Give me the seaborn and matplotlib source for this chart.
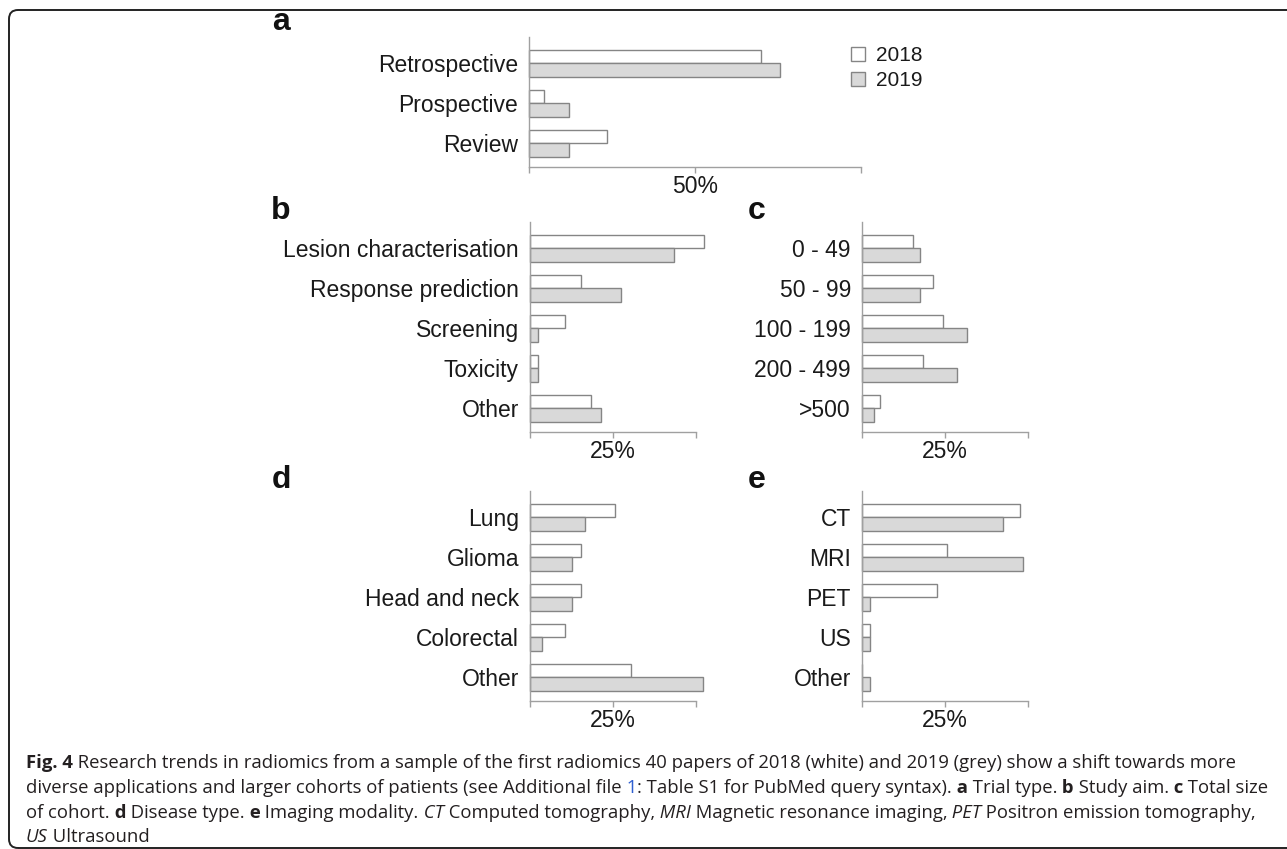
import numpy as np
import pandas as pd
import matplotlib
matplotlib.use("Agg")
import matplotlib.pyplot as plt
import seaborn as sns
from matplotlib.patches import FancyBboxPatch
from matplotlib.transforms import IdentityTransform

# ---------------- data (percent of 40 papers) ----------------
years = ["2018", "2019"]

trial_types = ["Retrospective", "Prospective", "Review"]
trial_2018 = [70, 4.5, 23.5]
trial_2019 = [75.5, 12, 12]

aims = ["Lesion characterisation", "Response prediction", "Screening", "Toxicity", "Other"]
aim_2018 = [52.5, 15.5, 10.5, 2.5, 18.5]
aim_2019 = [43.5, 27.5, 2.5, 2.5, 21.5]

cohorts = ["0 - 49", "50 - 99", "100 - 199", "200 - 499", ">500"]
cohort_2018 = [15.5, 21.5, 24.5, 18.5, 5.5]
cohort_2019 = [17.5, 17.5, 31.5, 28.5, 3.5]

diseases = ["Lung", "Glioma", "Head and neck", "Colorectal", "Other"]
disease_2018 = [25.5, 15.5, 15.5, 10.5, 30.5]
disease_2019 = [16.5, 12.5, 12.5, 3.5, 52]

modalities = ["CT", "MRI", "PET", "US", "Other"]
modality_2018 = [47.5, 25.5, 22.5, 2.5, 0]
modality_2019 = [42.5, 48.5, 2.5, 2.5, 2.5]

# ---------------- style ----------------
sns.set_theme(style="white")
plt.rcParams['font.family'] = ['Liberation Sans', 'DejaVu Sans']

W, H = 1287, 849
fig = plt.figure(figsize=(W / 100, H / 100), dpi=100)
fig.patch.set_facecolor("white")

PALETTE = {"2018": "#ffffff", "2019": "#d9d9d9"}
EDGE = "#858585"
SPINE = "#a0a0a0"
LABEL_FS = 16.5
TEXT_C = "#1a1a1a"


def px_axes(l, r, t, b):
    return fig.add_axes([l / W, 1 - b / H, (r - l) / W, (b - t) / H])


def panel(ax, cats, v18, v19, xmax, show_legend=False):
    df = pd.DataFrame({
        "category": list(cats) * 2,
        "year": ["2018"] * len(cats) + ["2019"] * len(cats),
        "share": list(v18) + list(v19),
    })
    sns.barplot(data=df, x="share", y="category", hue="year", order=cats,
                hue_order=years, palette=PALETTE, edgecolor=EDGE, linewidth=1.0,
                width=0.68, orient="h", ax=ax, legend=show_legend)
    for p in ax.patches:
        p.set_clip_on(False)
    n = len(cats)
    ax.set_ylim(n - 1 + 0.59, -0.66)
    ax.set_xlim(0, xmax)
    ax.set_xticks([0, xmax / 2, xmax])
    ax.set_xticklabels(["", f"{xmax / 2:g}%", ""])
    ax.set_xlabel("")
    ax.set_ylabel("")
    for s in ["top", "right"]:
        ax.spines[s].set_visible(False)
    for s in ["left", "bottom"]:
        ax.spines[s].set_color(SPINE)
        ax.spines[s].set_linewidth(1.0)
    ax.tick_params(axis="x", direction="out", length=4, width=1.0, color=SPINE,
                   labelsize=LABEL_FS, labelcolor=TEXT_C, pad=2, bottom=True)
    ax.tick_params(axis="y", length=0, labelsize=LABEL_FS, labelcolor=TEXT_C, pad=8)
    ax.set_facecolor("white")


ax_a = px_axes(529, 861, 37, 167)
panel(ax_a, trial_types, trial_2018, trial_2019, 100, show_legend=True)
sns.move_legend(ax_a, loc="upper left", bbox_to_anchor=(851 / W, 1 - 46 / H),
                bbox_transform=fig.transFigure, title=None, frameon=False,
                fontsize=15, handlelength=0.65, handleheight=0.65,
                handletextpad=0.55, labelspacing=0.3, borderpad=0, borderaxespad=0)
for t in ax_a.get_legend().get_texts():
    t.set_color(TEXT_C)

ax_b = px_axes(530, 696, 222, 432)
panel(ax_b, aims, aim_2018, aim_2019, 50)
ax_c = px_axes(862, 1028, 222, 432)
panel(ax_c, cohorts, cohort_2018, cohort_2019, 50)
ax_d = px_axes(530, 696, 491, 701)
panel(ax_d, diseases, disease_2018, disease_2019, 50)
ax_e = px_axes(862, 1028, 491, 701)
panel(ax_e, modalities, modality_2018, modality_2019, 50)

# panel letters
letters = [("a", 281, 22), ("b", 281, 211), ("c", 757, 211), ("d", 281, 480), ("e", 757, 480)]
for s, x, y in letters:
    fig.text(x / W, 1 - y / H, s, fontsize=23, fontweight="bold", color="#111111",
             ha="center", va="center")

# ---------------- caption ----------------
cax = fig.add_axes([0, 0, 1, 1])
cax.set_axis_off()
cax.set_xlim(0, 1)
cax.set_ylim(0, 1)

CAP_FS = 13.3
CAP_C = "#231f20"
caption_lines = [
    [("Fig. 4", "b"), (" Research trends in radiomics from a sample of the first radiomics 40 papers of 2018 (white) and 2019 (grey) show a shift towards more", "n")],
    [("diverse applications and larger cohorts of patients (see Additional file", "n"), (" 1", "link"),
     (": Table S1 for PubMed query syntax).", "n"), (" a", "b"), (" Trial type.", "n"),
     (" b", "b"), (" Study aim.", "n"), (" c", "b"), (" Total size", "n")],
    [("of cohort.", "n"), (" d", "b"), (" Disease type.", "n"), (" e", "b"), (" Imaging modality.", "n"),
     (" CT", "i"), (" Computed tomography,", "n"), (" MRI", "i"), (" Magnetic resonance imaging,", "n"),
     (" PET", "i"), (" Positron emission tomography,", "n")],
    [("US", "i"), (" Ultrasound", "n")],
]
line_bottom = [772, 797, 822, 846]


def style_kw(st):
    kw = dict(fontsize=CAP_FS, family=["Open Sans", "DejaVu Sans"], color=CAP_C)
    if st == "b":
        kw["fontweight"] = "bold"
    elif st == "i":
        kw["fontstyle"] = "italic"
    elif st == "link":
        kw["color"] = "#2f5fd0"
    return kw


for runs, yb in zip(caption_lines, line_bottom):
    prev = None
    for s, st in runs:
        if prev is None:
            prev = cax.text(26 / W, 1 - yb / H, s, va="bottom", ha="left", **style_kw(st))
        else:
            prev = cax.annotate(s, xy=(1, 0), xycoords=prev, va="bottom", ha="left", **style_kw(st))

# rounded frame
frame = FancyBboxPatch((9, H - 848), 1400, 848 - 10,
                       boxstyle="round,pad=0,rounding_size=9",
                       transform=IdentityTransform(), fill=False,
                       edgecolor="#222222", linewidth=1.4)
fig.add_artist(frame)

fig.savefig("out.png", dpi=100)
